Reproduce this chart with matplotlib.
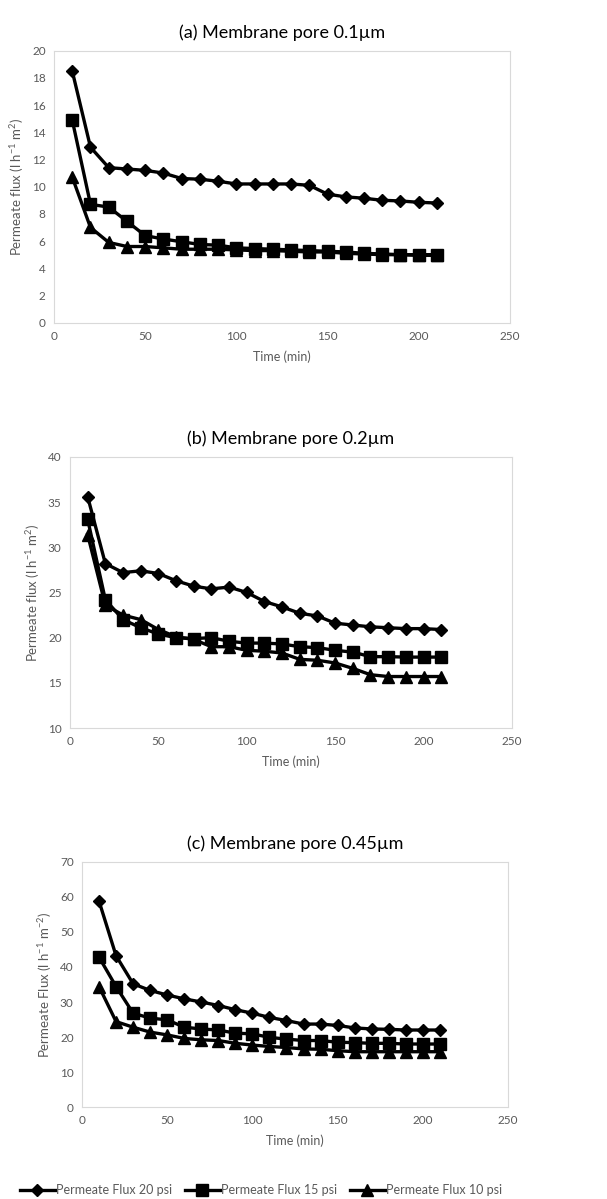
import numpy as np
import matplotlib
matplotlib.use("Agg")
import matplotlib.pyplot as plt

plt.rcParams['font.family'] = ['Lato', 'DejaVu Sans']
plt.rcParams['mathtext.default'] = 'regular'

time = [10, 20, 30, 40, 50, 60, 70, 80, 90, 100, 110, 120, 130, 140, 150, 160, 170, 180, 190, 200, 210]

# (a) 0.1 um
a_20 = [18.5, 12.9, 11.4, 11.3, 11.2, 11.0, 10.6, 10.55, 10.4, 10.2, 10.2, 10.2, 10.2, 10.1, 9.45, 9.25, 9.15, 9.0, 8.95, 8.85, 8.8]
a_15 = [14.9, 8.7, 8.5, 7.45, 6.4, 6.15, 5.95, 5.75, 5.7, 5.5, 5.45, 5.4, 5.35, 5.3, 5.25, 5.2, 5.1, 5.05, 5.0, 5.0, 5.0]
a_10 = [10.7, 7.0, 5.9, 5.6, 5.6, 5.5, 5.4, 5.4, 5.4, 5.35, 5.3, 5.3, 5.25, 5.2, 5.2, 5.1, 5.05, 5.0, 5.0, 4.95, 4.95]

# (b) 0.2 um
b_20 = [35.6, 28.2, 27.2, 27.4, 27.1, 26.3, 25.7, 25.4, 25.6, 25.0, 24.0, 23.4, 22.7, 22.4, 21.6, 21.4, 21.2, 21.1, 21.0, 21.0, 20.9]
b_15 = [33.1, 24.2, 22.0, 21.1, 20.4, 20.0, 19.9, 20.0, 19.6, 19.4, 19.4, 19.3, 19.0, 18.9, 18.6, 18.4, 17.9, 17.9, 17.85, 17.85, 17.85]
b_10 = [31.4, 23.6, 22.5, 22.0, 20.9, 20.1, 19.8, 19.0, 19.0, 18.6, 18.5, 18.3, 17.6, 17.5, 17.2, 16.6, 15.9, 15.7, 15.7, 15.7, 15.7]

# (c) 0.45 um
c_20 = [58.8, 43.2, 35.2, 33.3, 32.0, 30.9, 30.0, 29.0, 27.8, 26.8, 25.6, 24.7, 23.7, 23.7, 23.3, 22.6, 22.3, 22.2, 22.0, 22.0, 22.0]
c_15 = [42.8, 34.4, 26.8, 25.4, 24.9, 22.8, 22.3, 22.0, 21.1, 20.9, 19.9, 19.4, 19.0, 19.0, 18.5, 18.4, 18.2, 18.2, 18.0, 18.0, 18.0]
c_10 = [34.4, 24.4, 22.8, 21.4, 20.6, 19.6, 19.2, 19.0, 18.2, 17.7, 17.3, 17.0, 16.6, 16.5, 16.1, 15.8, 15.8, 15.8, 15.8, 15.8, 15.8]

labels = ['Permeate Flux 20 psi', 'Permeate Flux 15 psi', 'Permeate Flux 10 psi']
markers = ['D', 's', '^']
msizes = [6.5, 8.5, 8]

grey = '#595959'

fig = plt.figure(figsize=(6.07, 11.99), dpi=100)
ax0 = fig.add_axes([0.089, 0.7309, 0.751, 0.2268])
ax1 = fig.add_axes([0.1153, 0.3928, 0.728, 0.2261])
ax2 = fig.add_axes([0.1351, 0.0767, 0.7018, 0.2044])

panels = [
    (ax0, [a_20, a_15, a_10], '(a) Membrane pore 0.1µm', (0, 20, 2), 'Permeate flux (l h$^{-1}$ m$^{2}$)'),
    (ax1, [b_20, b_15, b_10], '(b) Membrane pore 0.2µm', (10, 40, 5), 'Permeate flux (l h$^{-1}$ m$^{2}$)'),
    (ax2, [c_20, c_15, c_10], '(c) Membrane pore 0.45µm', (0, 70, 10), 'Permeate Flux (l h$^{-1}$ m$^{-2}$)'),
]

for ax, series, title, (lo, hi, step), ylab in panels:
    for ys, lab, m, ms in zip(series, labels, markers, msizes):
        ax.plot(time, ys, color='black', lw=2.4, marker=m, ms=ms, label=lab)
    ax.set_xlim(0, 250)
    ax.set_ylim(lo, hi)
    ax.set_xticks(np.arange(0, 251, 50))
    ax.set_yticks(np.arange(lo, hi + 1, step))
    ax.set_title(title, fontsize=13, pad=9)
    ax.set_ylabel(ylab, fontsize=9.5, color=grey, labelpad=4)
    ax.set_xlabel('Time (min)', fontsize=9, color=grey, labelpad=6)
    ax.tick_params(length=0, labelsize=8.5, labelcolor=grey, pad=6)
    for s in ax.spines.values():
        s.set_color('#d9d9d9')
        s.set_linewidth(0.8)

handles, labs = ax2.get_legend_handles_labels()
fig.legend(handles, labs, loc='lower center', bbox_to_anchor=(0.43, 0.0), ncol=3,
           frameon=False, fontsize=9, labelcolor=grey, handlelength=2.8,
           columnspacing=1.0, handletextpad=0.1, borderaxespad=0, borderpad=0.25)

fig.savefig('out.png', dpi=100)
